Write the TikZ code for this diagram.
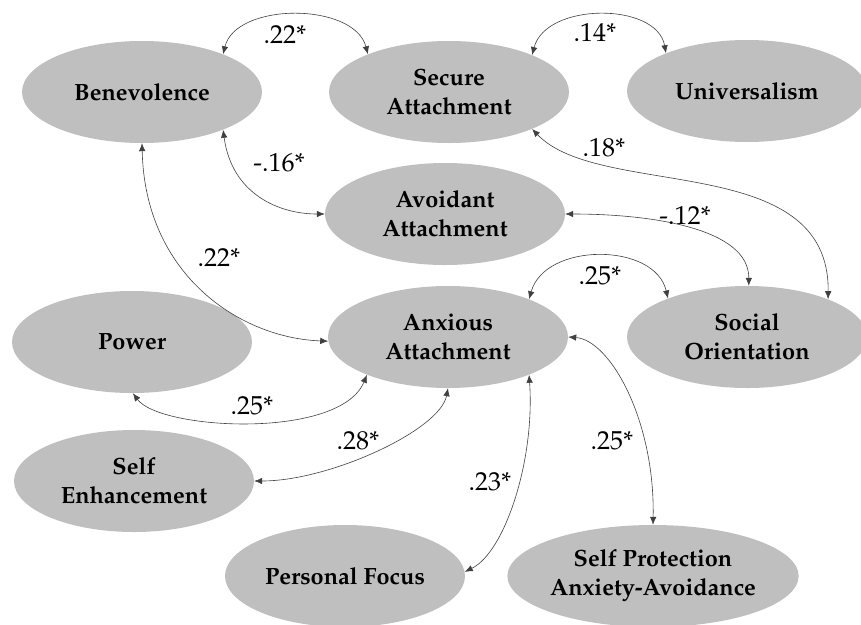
\documentclass[tikz,border=0pt]{standalone}
\usepackage[T1]{fontenc}
\usepackage{mathpazo}
\usetikzlibrary{shapes.geometric,arrows.meta}
\definecolor{nodegrey}{HTML}{BFBFBF}
\tikzset{
  construct/.style={ellipse, fill=nodegrey, minimum width=240pt, minimum height=102pt,
    inner sep=0pt, align=center, font=\fontsize{23.5}{29}\selectfont\bfseries},
  corr/.style={{Latex[length=8pt,width=6.5pt]}-{Latex[length=8pt,width=6.5pt]},
    draw=black!75, line width=0.6pt},
  coef/.style={font=\fontsize{26}{30}\selectfont, inner sep=0pt}
}
\begin{document}
\begin{tikzpicture}[x=1pt, y=-1pt]
\useasboundingbox (0,0) rectangle (861,624);

% constructs
\node[construct] (ben)  at (142,92)  {Benevolence};
\node[construct] (sec)  at (449,92)  {Secure\\Attachment};
\node[construct] (uni)  at (747,91)  {Universalism};
\node[construct] (avo)  at (445,214) {Avoidant\\Attachment};
\node[construct] (anx)  at (448,337) {Anxious\\Attachment};
\node[construct] (soc)  at (747,337) {Social\\Orientation};
\node[construct] (pow)  at (132,342) {Power};
\node[construct] (senh) at (134,481) {Self\\Enhancement};
\node[construct] (pf)   at (345,576) {Personal Focus};
\node[construct] (sp)   at (653,576) {Self Protection\\Anxiety-Avoidance};

% correlations
\draw[corr] (ben.25) .. controls (236,2) and (354,2) .. (sec.155);
\draw[corr] (sec.24) .. controls (546,2) and (657,2) .. (uni.155);
\draw[corr] (ben.-25) .. controls (232,195) and (280,214) .. (avo.180);
\draw[corr] (ben.-90) .. controls (145,275) and (240,338) .. (anx.182);
\draw[corr] (sec.-24) .. controls (600,200) and (830,150) .. (soc.25);
\draw[corr] (avo.0) .. controls (650,214) and (749,228) .. (soc.88);
\draw[corr] (anx.25) .. controls (545,242) and (655,242) .. (soc.154);
\draw[corr] (pow.-89) .. controls (160,430) and (340,440) .. (anx.205);
\draw[corr] (anx.-90) .. controls (440,430) and (330,481) .. (senh.0);
\draw[corr] (anx.-25) .. controls (535,460) and (505,552) .. (pf.2);
\draw[corr] (anx.0) .. controls (610,340) and (655,420) .. (sp.90);

% coefficients
\node[coef] (c1)  at (285,35)  {.22*};
\node[coef] (c2)  at (595,33)  {.14*};
\node[coef] (c3)  at (279,163) {-.16*};
\node[coef] (c4)  at (219,258) {.22*};
\node[coef] (c5)  at (604,148) {.18*};
\node[coef] (c6)  at (685,216) {-.12*};
\node[coef] (c7)  at (600,276) {.25*};
\node[coef] (c8)  at (252,406) {.25*};
\node[coef] (c9)  at (358,441) {.28*};
\node[coef] (c10) at (490,482) {.23*};
\node[coef] (c11) at (612,441) {.25*};
\end{tikzpicture}
\end{document}
